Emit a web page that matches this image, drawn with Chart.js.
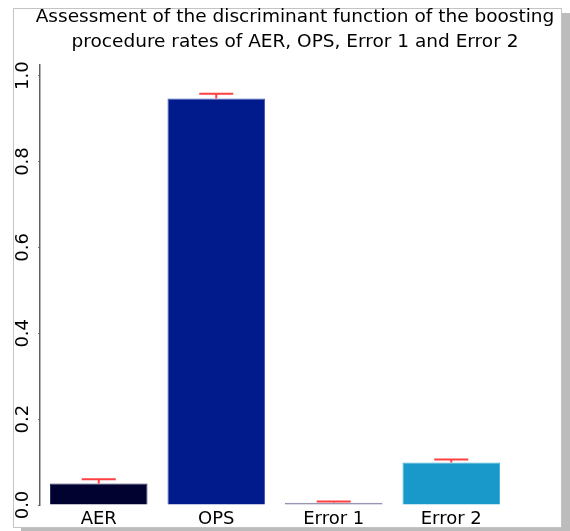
<!DOCTYPE html>
<html>
<head>
<meta charset="utf-8">
<script src="https://cdn.jsdelivr.net/npm/chart.js@4/dist/chart.umd.min.js"></script>
<style>
  html, body { margin: 0; padding: 0; background: #ffffff; overflow: hidden; }
  #panel {
    position: absolute; left: 13px; top: 8px; width: 547px; height: 518px;
    background: #ffffff; border: 1px solid #c4c4c4;
    box-shadow: 8px 5px 0 #bcbcbc;
  }
  #chart { position: absolute; left: 0; top: 0; }
</style>
</head>
<body>
<div id="panel"></div>
<canvas id="chart" width="570" height="531"></canvas>
<script>
// Boosting procedure rates and their error margins
const categories = ['AER', 'OPS', 'Error 1', 'Error 2'];
const rates      = [0.050, 0.947, 0.005, 0.099];
const rateErrors = [0.010, 0.011, 0.003, 0.007];
const barColors  = ['#01022f', '#011b8d', '#76769a', '#1899c9'];
const barEdges   = ['#2a2c5a', '#4a5cbc', '#8686a6', '#46b2de'];
const yTickValues = [0, 0.2, 0.4, 0.6, 0.8, 1.0];

const titleLines = [
  'Assessment of the discriminant function of the boosting',
  'procedure rates of AER, OPS, Error 1 and Error 2'
];

// Red upper error bars with caps over each bar
const errorBarPlugin = {
  id: 'errorBars',
  afterDatasetsDraw(chart) {
    const meta = chart.getDatasetMeta(0);
    const y = chart.scales.y;
    const ctx = chart.ctx;
    ctx.save();
    ctx.strokeStyle = '#ff4040';
    ctx.lineWidth = 2;
    meta.data.forEach((bar, i) => {
      const yBar = y.getPixelForValue(rates[i]);
      const yTop = y.getPixelForValue(rates[i] + rateErrors[i]);
      ctx.beginPath();
      ctx.moveTo(bar.x, yBar);
      ctx.lineTo(bar.x, yTop);
      ctx.moveTo(bar.x - 17, yTop);
      ctx.lineTo(bar.x + 17, yTop);
      ctx.stroke();
    });
    ctx.restore();
  }
};

// Y tick labels written vertically, reading upward
const verticalTickPlugin = {
  id: 'verticalTicks',
  afterDraw(chart) {
    const y = chart.scales.y;
    const ctx = chart.ctx;
    ctx.save();
    ctx.fillStyle = '#000000';
    ctx.font = '18px "DejaVu Sans"';
    ctx.textAlign = 'center';
    ctx.textBaseline = 'middle';
    y.ticks.forEach(t => {
      const py = y.getPixelForValue(t.value);
      ctx.save();
      ctx.translate(23, py);
      ctx.rotate(-Math.PI / 2);
      ctx.fillText(t.value.toFixed(1), 0, 0);
      ctx.restore();
    });
    ctx.restore();
  }
};

new Chart(document.getElementById('chart'), {
  type: 'bar',
  data: {
    labels: categories,
    datasets: [{
      data: rates,
      backgroundColor: barColors,
      borderColor: barEdges,
      borderWidth: 1,
      categoryPercentage: 1,
      barPercentage: 0.83
    }]
  },
  options: {
    responsive: false,
    animation: false,
    events: [],
    layout: { padding: { left: 20, right: 0, top: 1, bottom: 0 } },
    plugins: {
      legend: { display: false },
      tooltip: { enabled: false },
      title: {
        display: true,
        text: titleLines,
        color: '#000000',
        font: { family: '"DejaVu Sans"', size: 18.5, weight: 'normal', lineHeight: 1.35 },
        padding: { top: 4, bottom: 10 }
      }
    },
    scales: {
      x: {
        grid: { display: false, drawTicks: false },
        border: { display: false },
        ticks: {
          color: '#000000',
          padding: 4,
          font: { family: '"DejaVu Sans"', size: 18 }
        },
        afterFit(s) { s.height = 26; }
      },
      y: {
        min: 0,
        max: 1.025,
        afterBuildTicks(s) { s.ticks = yTickValues.map(v => ({ value: v })); },
        grid: { display: true, drawOnChartArea: false, drawTicks: true, tickLength: 2, color: '#777777' },
        border: { display: true, color: '#606060', width: 1.5 },
        ticks: { display: false },
        afterFit(s) { s.width = 20; }
      },
      yRight: {
        position: 'right',
        display: true,
        min: 0,
        max: 1,
        grid: { display: false },
        border: { display: false },
        ticks: { display: false },
        afterFit(s) { s.width = 60; }
      }
    }
  },
  plugins: [errorBarPlugin, verticalTickPlugin]
});
</script>
</body>
</html>
